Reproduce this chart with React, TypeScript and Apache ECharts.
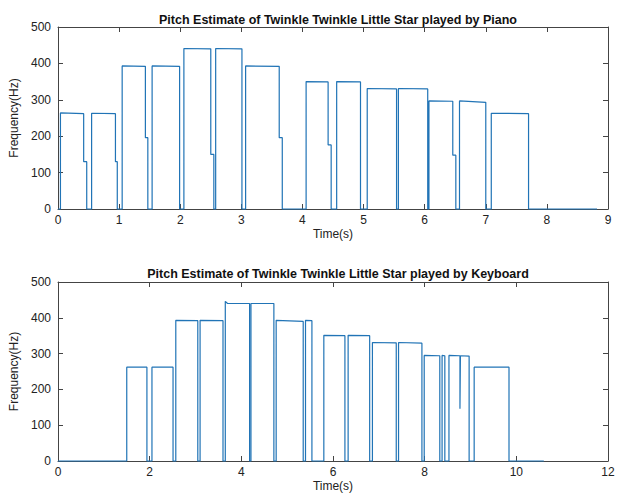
import React, { useEffect, useRef } from "react";
import * as echarts from "echarts";

const titles = [
  "Pitch Estimate of Twinkle Twinkle Little Star played by Piano",
  "Pitch Estimate of Twinkle Twinkle Little Star played by Keyboard",
];
const xLabel = "Time(s)";
const yLabel = "Frequency(Hz)";

const pianoTime = [
  0, 0.04, 0.04, 0.42, 0.42, 0.47, 0.47,
  0.55, 0.55, 0.94, 0.94, 0.97, 0.97,
  1.05, 1.05, 1.43, 1.43, 1.47, 1.47,
  1.54, 1.54, 1.99, 1.99,
  2.06, 2.06, 2.5, 2.5, 2.55, 2.55,
  2.58, 2.58, 3.01, 3.01,
  3.07, 3.07, 3.62, 3.62, 3.67, 3.67,
  4.06, 4.06, 4.42, 4.42, 4.47, 4.47,
  4.56, 4.56, 4.95, 4.95,
  5.06, 5.06, 5.54, 5.54,
  5.57, 5.57, 6.05, 6.05,
  6.07, 6.07, 6.46, 6.46, 6.51, 6.51,
  6.57, 6.57, 7.0, 7.0,
  7.09, 7.09, 7.7, 7.7,
  8.82,
];
const pianoFreq = [
  0, 0, 264, 262, 130, 130, 0,
  0, 263, 262, 130, 130, 0,
  0, 393, 392, 196, 196, 0,
  0, 393, 392, 0,
  0, 441, 440, 150, 150, 0,
  0, 441, 440, 0,
  0, 393, 392, 196, 196, 0,
  0, 350, 349, 176, 176, 0,
  0, 350, 349, 0,
  0, 331, 330, 0,
  0, 331, 330, 0,
  0, 297, 296, 148, 148, 0,
  0, 297, 293, 0,
  0, 263, 262, 0,
  0,
];

const keyboardTime = [
  0, 1.5, 1.5, 1.94, 1.94,
  2.05, 2.05, 2.51, 2.51,
  2.57, 2.57, 3.05, 3.05,
  3.1, 3.1, 3.6, 3.6,
  3.65, 3.65, 3.7, 4.18, 4.18,
  4.21, 4.21, 4.71, 4.71,
  4.76, 4.76, 5.35, 5.35,
  5.4, 5.4, 5.54, 5.54,
  5.8, 5.8, 6.26, 6.26,
  6.33, 6.33, 6.8, 6.8,
  6.86, 6.86, 7.38, 7.38,
  7.43, 7.43, 7.94, 7.94,
  7.99, 7.99, 8.33, 8.33,
  8.38, 8.38, 8.44, 8.44,
  8.53, 8.53, 8.77, 8.77, 8.78, 8.97, 8.97,
  9.08, 9.08, 9.84, 9.84,
  10.6,
];
const keyboardFreq = [
  0, 0, 262, 262, 0,
  0, 262, 262, 0,
  0, 393, 392, 0,
  0, 393, 392, 0,
  0, 446, 440, 440, 0,
  0, 440, 440, 0,
  0, 393, 390, 0,
  0, 393, 392, 0,
  0, 351, 350, 0,
  0, 351, 350, 0,
  0, 331, 330, 0,
  0, 331, 329, 0,
  0, 295, 294, 0,
  0, 295, 294, 0,
  0, 295, 294, 146, 294, 293, 0,
  0, 262, 262, 0,
  0,
];

const yTicks = [0, 100, 200, 300, 400, 500];
const pianoXMax = 9;
const keyboardXMax = 12;

const FONT = "Liberation Sans, Arial, Helvetica, sans-serif";
const AXIS = "#444444";
const LINE = "#2174b6";

export default function App() {
  const ref = useRef<HTMLDivElement>(null);
  useEffect(() => {
    document.body.style.margin = "0";
    const chart = echarts.init(ref.current!, null, { renderer: "svg" });
    const grids = [
      { left: 58, right: 14, top: 27, height: 182 },
      { left: 58, right: 14, top: 282, height: 181 },
    ];
    const xMaxes = [pianoXMax, keyboardXMax];
    const xIntervals = [1, 2];
    const xAxes: any[] = [];
    const yAxes: any[] = [];
    grids.forEach((_, g) => {
      const common = {
        type: "value",
        gridIndex: g,
        min: 0,
        max: xMaxes[g],
        interval: xIntervals[g],
        splitLine: { show: false },
        axisLine: { show: true, onZero: false, lineStyle: { color: AXIS, width: 1 } },
        axisTick: { show: true, inside: true, length: 5, lineStyle: { color: AXIS } },
      };
      xAxes.push({
        ...common,
        position: "bottom",
        name: xLabel,
        nameLocation: "middle",
        nameGap: 19,
        nameTextStyle: { fontFamily: FONT, fontSize: 12, color: "#222" },
        axisLabel: { fontFamily: FONT, fontSize: 12, color: "#222", margin: 5 },
      });
      xAxes.push({ ...common, position: "top", axisLabel: { show: false } });
      const ycommon = {
        type: "value",
        gridIndex: g,
        min: yTicks[0],
        max: yTicks[yTicks.length - 1],
        interval: 100,
        splitLine: { show: false },
        axisLine: { show: true, onZero: false, lineStyle: { color: AXIS, width: 1 } },
        axisTick: { show: true, inside: true, length: 5, lineStyle: { color: AXIS } },
      };
      yAxes.push({
        ...ycommon,
        position: "left",
        name: yLabel,
        nameLocation: "middle",
        nameGap: 34,
        nameRotate: 90,
        nameTextStyle: { fontFamily: FONT, fontSize: 12, color: "#222" },
        axisLabel: { fontFamily: FONT, fontSize: 12, color: "#222", margin: 7 },
      });
      yAxes.push({ ...ycommon, position: "right", axisLabel: { show: false } });
    });
    chart.setOption({
      animation: false,
      backgroundColor: "#ffffff",
      title: [
        {
          text: titles[0],
          left: 333,
          top: 8,
          textAlign: "center",
          textStyle: { fontFamily: FONT, fontSize: 12.5, fontWeight: "bold", color: "#111" },
        },
        {
          text: titles[1],
          left: 333,
          top: 262,
          textAlign: "center",
          textStyle: { fontFamily: FONT, fontSize: 12.5, fontWeight: "bold", color: "#111" },
        },
      ],
      grid: grids,
      xAxis: xAxes,
      yAxis: yAxes,
      series: [
        {
          type: "line",
          xAxisIndex: 0,
          yAxisIndex: 0,
          data: pianoTime.map((t, i) => [t, pianoFreq[i]]),
          showSymbol: false,
          lineStyle: { color: LINE, width: 1.2 },
          clip: false,
        },
        {
          type: "line",
          xAxisIndex: 2,
          yAxisIndex: 2,
          data: keyboardTime.map((t, i) => [t, keyboardFreq[i]]),
          showSymbol: false,
          lineStyle: { color: LINE, width: 1.2 },
          clip: false,
        },
      ],
    });
    return () => chart.dispose();
  }, []);
  return <div ref={ref} style={{ width: 622, height: 493 }} />;
}
